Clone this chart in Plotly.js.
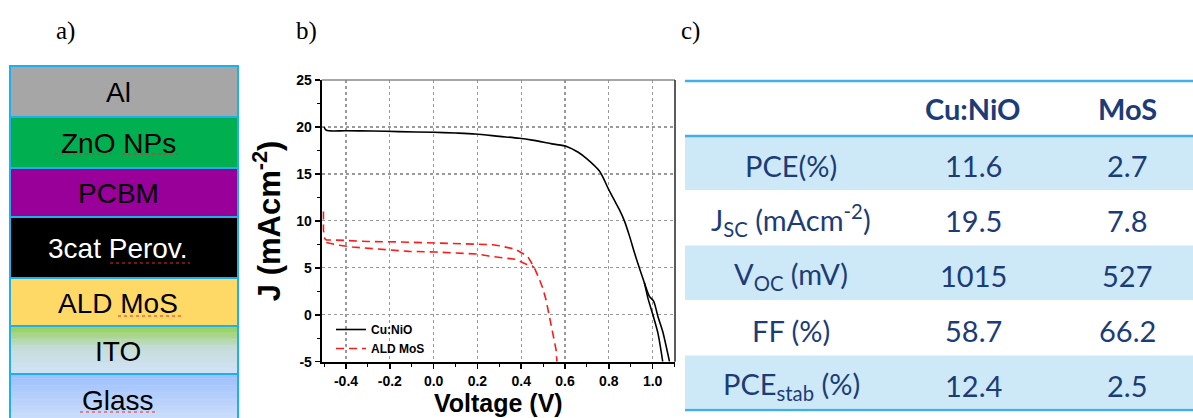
<!DOCTYPE html>
<html>
<head>
<meta charset="utf-8">
<script src="https://cdn.plot.ly/plotly-3.0.1.min.js"></script>
<style>html,body{margin:0;padding:0;background:#fff;}#chart{width:1193px;height:418px;}</style>
</head>
<body>
<div id="chart"></div>
<script>
// ---------------- DATA ----------------
// Panel b: J-V curves (Voltage in V, J in mA/cm2)
const cuNiO_V = [-0.50, -0.49, -0.40, -0.28, -0.16, 0.00, 0.10, 0.19, 0.30, 0.39, 0.45, 0.54, 0.61, 0.66, 0.70, 0.757, 0.80, 0.825, 0.848, 0.871, 0.894, 0.917, 0.939, 0.962, 0.978, 1.001, 1.024, 1.046];
const cuNiO_J = [20.0, 19.65, 19.6, 19.57, 19.5, 19.43, 19.35, 19.25, 19.0, 18.8, 18.6, 18.2, 17.9, 17.3, 16.6, 15.3, 13.3, 12.2, 11.2, 10.0, 8.4, 6.6, 5.0, 3.4, 1.8, 0.0, -1.96, -5.0];
const cuNiO2_V = [0.962, 0.985, 1.005, 1.024, 1.046, 1.077];
const cuNiO2_J = [3.4, 1.96, 1.43, -0.18, -1.79, -5.0];
const mos_V = [-0.503, -0.503, -0.497, -0.49, -0.44, -0.30, -0.15, 0.01, 0.21, 0.27, 0.30, 0.374, 0.43, 0.46, 0.483, 0.498, 0.513, 0.528, 0.544, 0.559, 0.563];
const mos_J = [11.0, 9.0, 8.1, 7.96, 7.95, 7.8, 7.75, 7.64, 7.5, 7.46, 7.35, 6.97, 6.2, 5.0, 3.75, 2.86, 1.6, 0.0, -1.96, -3.75, -5.0];
const mos2_V = [-0.49, -0.44, -0.37, -0.30, -0.243, -0.113, 0.01, 0.13, 0.20, 0.252, 0.31, 0.374, 0.42, 0.45, 0.46];
const mos2_J = [7.7, 7.43, 7.21, 7.07, 6.93, 6.75, 6.68, 6.5, 6.46, 6.25, 6.07, 5.9, 5.4, 5.2, 5.0];
const seriesNames = ['Cu:NiO', 'ALD MoS'];
const xTickVals = [-0.4, -0.2, 0.0, 0.2, 0.4, 0.6, 0.8, 1.0];
const xTickText = ['-0.4', '-0.2', '0.0', '0.2', '0.4', '0.6', '0.8', '1.0'];
const yTickVals = [-5, 0, 5, 10, 15, 20, 25];
const yTickText = ['-5', '0', '5', '10', '15', '20', '25'];

// Panel a: device stack
const stackLayers = ['Al', 'ZnO NPs', 'PCBM', '3cat Perov.', 'ALD MoS', 'ITO', 'Glass'];

// Panel c: table
const tableHeader = ['', 'Cu:NiO', 'MoS'];
const tableRowLabels = ['PCE(%)', 'J<sub>SC</sub> (mAcm<sup>-2</sup>)', 'V<sub>OC</sub> (mV)', 'FF (%)', 'PCE<sub>stab</sub> (%)'];
const tableCuNiO = ['11.6', '19.5', '1015', '58.7', '12.4'];
const tableMoS = ['2.7', '7.8', '527', '66.2', '2.5'];

// ---------------- LAYOUT HELPERS ----------------
const W = 1193, H = 418;
const px = x => x / W;
const py = y => 1 - y / H;

const shapes = [];
const annotations = [];

function rect(x0, y0, x1, y1, fill, lineColor, lineWidth) {
  shapes.push({type: 'rect', xref: 'paper', yref: 'paper', x0: px(x0), x1: px(x1), y0: py(y1), y1: py(y0),
    fillcolor: fill, line: {color: lineColor || 'rgba(0,0,0,0)', width: lineWidth || 0}, layer: 'below'});
}
function hline(x0, x1, y, color, width, dash) {
  shapes.push({type: 'line', xref: 'paper', yref: 'paper', x0: px(x0), x1: px(x1), y0: py(y), y1: py(y),
    line: {color: color, width: width, dash: dash || 'solid'}, layer: 'above'});
}
function text(x, y, t, font, xanchor) {
  annotations.push({xref: 'paper', yref: 'paper', x: px(x), y: py(y), text: t, showarrow: false,
    xanchor: xanchor || 'center', yanchor: 'middle', font: font});
}
function hexToRgb(h) { return [parseInt(h.slice(1,3),16), parseInt(h.slice(3,5),16), parseInt(h.slice(5,7),16)]; }
function gradientRect(x0, y0, x1, y1, stops) {
  const n = 40;
  const h = (y1 - y0) / n;
  for (let i = 0; i < n; i++) {
    const t = (i + 0.5) / n;
    let k = 0;
    while (k < stops.length - 2 && t > stops[k + 1][0]) k++;
    const a = stops[k], b = stops[k + 1];
    const f = Math.min(1, Math.max(0, (t - a[0]) / (b[0] - a[0])));
    const ca = hexToRgb(a[1]), cb = hexToRgb(b[1]);
    const c = ca.map((v, j) => Math.round(v + (cb[j] - v) * f));
    rect(x0, y0 + i * h, x1, y0 + (i + 1) * h + 0.6, 'rgb(' + c.join(',') + ')');
  }
}

// ---------------- PANEL LABELS ----------------
const labelFont = {family: 'Liberation Serif, Times New Roman, serif', size: 25, color: '#000'};
text(65, 31, 'a)', labelFont);
text(306, 31, 'b)', labelFont);
text(690, 31, 'c)', labelFont);

// ---------------- PANEL A: STACK ----------------
const stackBounds = [66, 117, 168, 217, 278, 326, 374, 430];
const stackFills = ['#A6A6A6', '#00B050', '#990099', '#000000', '#FFD966', null, null];
const stackTextColors = ['#000', '#000', '#000', '#fff', '#000', '#000', '#000'];
const borderBlue = '#1CB1EC';
stackLayers.forEach((name, i) => {
  const y0 = stackBounds[i], y1 = stackBounds[i + 1];
  if (name === 'ITO') {
    gradientRect(10, y0, 238, y1, [[0, '#92D050'], [0.45, '#C4DCD8'], [1, '#D3E2F8']]);
  } else if (name === 'Glass') {
    gradientRect(10, y0, 238, y1, [[0, '#9CBFFC'], [1, '#D8E5FB']]);
  } else {
    rect(10, y0, 238, y1, stackFills[i]);
  }
  shapes.push({type: 'rect', xref: 'paper', yref: 'paper', x0: px(10), x1: px(238), y0: py(y1), y1: py(y0),
    fillcolor: 'rgba(0,0,0,0)', line: {color: borderBlue, width: 2}, layer: 'below'});
  const cy = name === 'Glass' ? 400 : (y0 + y1) / 2 + 1;
  text(118, cy, name, {family: 'Liberation Sans, Arial, sans-serif', size: 28, color: stackTextColors[i]});
});
// spell-check squiggles
[[55, 116, 154], [122, 178, 154], [110, 190, 263], [118, 183, 316], [80, 155, 412]].forEach(s => hline(s[0], s[1], s[2], '#E03030', 1.2, 'dot'));

// ---------------- PANEL C: TABLE ----------------
const tblLine = '#45AEE6';
const tblFill = '#CDE9F7';
const tblText = '#1C3C78';
const rowTops = [137, 190, 245.5, 300, 355.5];
const rowBots = [190, 245.5, 300, 355.5, 408.5];
rowTops.forEach((t, i) => { if (i % 2 === 0) rect(685, t, 1193, rowBots[i], tblFill); });
hline(685, 1193, 81, tblLine, 2.5);
hline(685, 1193, 136, tblLine, 2.5);
hline(685, 1193, 410, tblLine, 2.5);
const colX = [791, 973, 1127];
const tFont = {family: 'Lato, Open Sans, sans-serif', size: 29, color: tblText};
const tFontB = {family: 'Lato, Open Sans, sans-serif', size: 29, color: tblText, weight: 'bold'};
text(colX[1], 109, tableHeader[1], tFontB);
text(colX[2], 109, tableHeader[2], tFontB);
const rowY = [165, 220, 275, 330, 385];
tableRowLabels.forEach((lab, i) => {
  text(colX[0], rowY[i], lab, tFont);
  text(colX[1], rowY[i], tableCuNiO[i], tFont);
  text(colX[2], rowY[i], tableMoS[i], tFont);
});

// ---------------- PANEL B: PLOT FRAME ----------------
shapes.push({type: 'line', xref: 'x domain', yref: 'y domain', x0: 0, x1: 1, y0: 1, y1: 1, line: {color: '#888', width: 1.3}, layer: 'above'});
shapes.push({type: 'line', xref: 'x domain', yref: 'y domain', x0: 1, x1: 1, y0: 0, y1: 1, line: {color: '#333', width: 1.6}, layer: 'above'});

const tickFont = {family: 'Liberation Sans, Arial, sans-serif', size: 14, color: '#000', weight: 'bold'};

const traces = [
  {x: cuNiO_V, y: cuNiO_J, name: seriesNames[0], type: 'scatter', mode: 'lines', line: {color: '#000', width: 1.6, shape: 'spline', smoothing: 0.8}, legendgroup: 'cu'},
  {x: cuNiO2_V, y: cuNiO2_J, name: seriesNames[0], type: 'scatter', mode: 'lines', line: {color: '#000', width: 1.6, shape: 'spline', smoothing: 0.6}, legendgroup: 'cu', showlegend: false},
  {x: mos_V, y: mos_J, name: seriesNames[1], type: 'scatter', mode: 'lines', line: {color: '#FF1A1A', width: 1.6, dash: '8px,5px'}, legendgroup: 'mos'},
  {x: mos2_V, y: mos2_J, name: seriesNames[1], type: 'scatter', mode: 'lines', line: {color: '#FF1A1A', width: 1.6, dash: '8px,5px'}, legendgroup: 'mos', showlegend: false}
];

const layout = {
  width: W, height: H,
  margin: {l: 0, r: 0, t: 0, b: 0},
  paper_bgcolor: '#fff', plot_bgcolor: '#fff',
  showlegend: true,
  legend: {x: px(331), y: py(315), xanchor: 'left', yanchor: 'top', bgcolor: 'rgba(0,0,0,0)', borderwidth: 0,
    font: {family: 'Liberation Sans, Arial, sans-serif', size: 12, color: '#000', weight: 'bold'}, itemwidth: 30, tracegroupgap: 0},
  xaxis: {
    domain: [px(321.7), px(675)], range: [-0.511, 1.102],
    tickmode: 'array', tickvals: xTickVals, ticktext: xTickText,
    ticks: 'outside', ticklen: 5, tickwidth: 1.5, tickcolor: '#000',
    minor: {dtick: 0.1, tick0: 0, ticks: 'outside', ticklen: 3, tickwidth: 1, tickcolor: '#000', showgrid: false},
    showgrid: true, gridcolor: '#999', griddash: 'dot', gridwidth: 1.2,
    showline: true, linecolor: '#000', linewidth: 2, zeroline: false,
    tickfont: tickFont,
    title: {text: 'Voltage (V)', font: {family: 'Liberation Sans, Arial, sans-serif', size: 25, color: '#000', weight: 'bold'}, standoff: 4},
    fixedrange: true, automargin: false
  },
  yaxis: {
    domain: [py(361.7), py(80)], range: [-5, 25],
    tickmode: 'array', tickvals: yTickVals, ticktext: yTickText,
    ticks: 'outside', ticklen: 5, tickwidth: 1.5, tickcolor: '#000',
    minor: {dtick: 2.5, tick0: 0, ticks: 'outside', ticklen: 3, tickwidth: 1, tickcolor: '#000', showgrid: false},
    showgrid: true, gridcolor: '#999', griddash: 'dot', gridwidth: 1.2,
    showline: true, linecolor: '#000', linewidth: 2, zeroline: false,
    tickfont: tickFont,
    title: {text: 'J (mAcm<sup>-2</sup>)', font: {family: 'Liberation Sans, Arial, sans-serif', size: 31, color: '#000', weight: 'bold'}, standoff: 6},
    fixedrange: true, automargin: false
  },
  shapes: shapes,
  annotations: annotations
};

Plotly.newPlot('chart', traces, layout, {displayModeBar: false, staticPlot: true});
</script>
</body>
</html>
